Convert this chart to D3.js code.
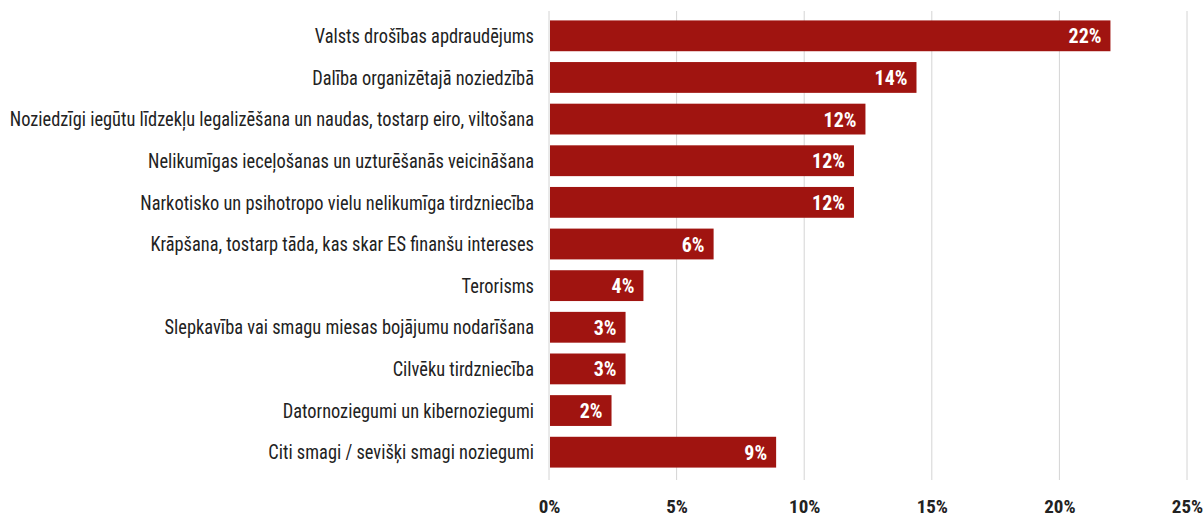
<!DOCTYPE html>
<html>
<head>
<meta charset="utf-8">
<script src="https://cdn.jsdelivr.net/npm/d3@7"></script>
<style>
  body { margin: 0; background: #fff; }
  svg text { font-family: "Roboto Condensed", "Liberation Sans Narrow", "DejaVu Sans Condensed", sans-serif; }
</style>
</head>
<body>
<div id="chart"></div>
<script>
// kategorijas un vērtības (%)
const categories = [
  "Valsts drošības apdraudējums",
  "Dalība organizētajā noziedzībā",
  "Noziedzīgi iegūtu līdzekļu legalizēšana un naudas, tostarp eiro, viltošana",
  "Nelikumīgas ieceļošanas un uzturēšanās veicināšana",
  "Narkotisko un psihotropo vielu nelikumīga tirdzniecība",
  "Krāpšana, tostarp tāda, kas skar ES finanšu intereses",
  "Terorisms",
  "Slepkavība vai smagu miesas bojājumu nodarīšana",
  "Cilvēku tirdzniecība",
  "Datornoziegumi un kibernoziegumi",
  "Citi smagi / sevišķi smagi noziegumi"
];
const values = [22.0, 14.4, 12.4, 11.95, 11.95, 6.45, 3.7, 3.0, 3.0, 2.45, 8.9];
const ticks = [0, 5, 10, 15, 20, 25];

const width = 1204, height = 518;
const margin = {top: 15, right: 17, bottom: 45, left: 549};

const svg = d3.select("#chart").append("svg")
    .attr("width", width)
    .attr("height", height);

const x = d3.scaleLinear()
    .domain([0, 25])
    .range([margin.left, width - margin.right]);

const y = d3.scaleBand()
    .domain(categories)
    .range([margin.top, height - margin.bottom])
    .paddingInner(0.26)
    .paddingOuter(0.13);

// grid
svg.append("g")
  .selectAll("line")
  .data(ticks)
  .join("line")
    .attr("x1", d => x(d)).attr("x2", d => x(d))
    .attr("y1", 11).attr("y2", 480)
    .attr("stroke", "#d4d4d4")
    .attr("stroke-width", 1);

// bars
svg.append("g")
  .selectAll("rect")
  .data(values)
  .join("rect")
    .attr("x", x(0) + 1)
    .attr("y", (d, i) => y(categories[i]))
    .attr("width", d => x(d) - x(0) - 1)
    .attr("height", y.bandwidth())
    .attr("fill", "#a01410");

// bar labels
svg.append("g")
  .selectAll("text")
  .data(values)
  .join("text")
    .attr("transform", (d, i) => `translate(${x(d) - 9}, ${y(categories[i]) + y.bandwidth() / 2}) scale(0.95, 1)`)
    .attr("dy", "0.36em")
    .attr("text-anchor", "end")
    .attr("fill", "#fff")
    .attr("font-weight", "bold")
    .attr("font-size", "21px")
    .text(d => Math.round(d) + "%");

// category labels
svg.append("g")
  .selectAll("text")
  .data(categories)
  .join("text")
    .attr("transform", d => `translate(${margin.left - 15}, ${y(d) + y.bandwidth() / 2}) scale(0.92, 1)`)
    .attr("dy", "0.36em")
    .attr("text-anchor", "end")
    .attr("fill", "#222")
    .attr("font-size", "20px")
    .text(d => d);

// x axis
const xAxis = d3.axisBottom(x)
    .tickValues(ticks)
    .tickFormat(d => d + "%")
    .tickSize(0)
    .tickPadding(0);

svg.append("g")
    .attr("transform", `translate(0, ${506})`)
    .call(xAxis)
    .call(g => g.select(".domain").remove())
    .call(g => g.selectAll("text")
        .attr("font-size", "19px")
        .attr("font-weight", "bold")
        .attr("fill", "#222")
        .attr("dy", "0.36em")
        .attr("font-family", null));
</script>
</body>
</html>
